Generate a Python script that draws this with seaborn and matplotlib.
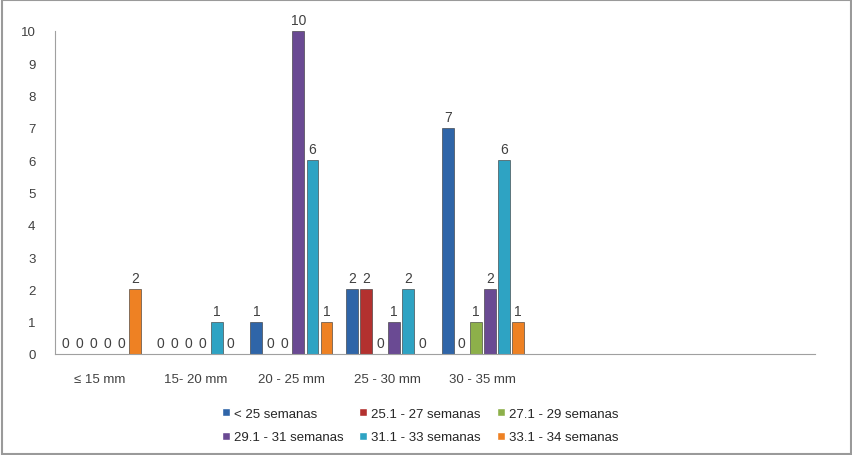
import numpy as np
import pandas as pd
import seaborn as sns
import matplotlib.pyplot as plt
from matplotlib.patches import Rectangle

categorias = ['≤ 15 mm', '15- 20 mm', '20 - 25 mm', '25 - 30 mm', '30 - 35 mm']
series = ['< 25 semanas', '25.1 - 27 semanas', '27.1 - 29 semanas',
          '29.1 - 31 semanas', '31.1 - 33 semanas', '33.1 - 34 semanas']
valores = {
    '< 25 semanas':      [0, 0, 1, 2, 7],
    '25.1 - 27 semanas': [0, 0, 0, 2, 0],
    '27.1 - 29 semanas': [0, 0, 0, 0, 1],
    '29.1 - 31 semanas': [0, 0, 10, 1, 2],
    '31.1 - 33 semanas': [0, 1, 6, 2, 6],
    '33.1 - 34 semanas': [2, 0, 1, 0, 1],
}
colores = ['#2F65A8', '#B3312F', '#8DB04A', '#6A4A93', '#2EA3C3', '#EE8123']

rows = []
for s in series:
    for c, v in zip(categorias, valores[s]):
        rows.append({'cat': c, 'serie': s, 'n': v})
df = pd.DataFrame(rows)

sns.set_style('white')
plt.rcParams['font.family'] = ['Liberation Sans', 'DejaVu Sans']

fig = plt.figure(figsize=(8.53, 4.56), dpi=100)
ax = fig.add_axes([55 / 853, 101 / 456, 760 / 853, 323 / 456])

# marco exterior
fig.patches.append(Rectangle((0.002, 0.003), 0.996, 0.994, transform=fig.transFigure,
                             fill=False, edgecolor='#9a9a9a', linewidth=1.5))

sns.barplot(data=df, x='cat', y='n', hue='serie', order=categorias,
            hue_order=series, palette=colores, width=0.88, gap=0.15,
            saturation=1, ax=ax, legend=True)

for cont in ax.containers:
    for p in cont:
        p.set_edgecolor('#303030')
        p.set_linewidth(0.4)
    ax.bar_label(cont, fmt='%d', padding=3, fontsize=10, color='#404040')

ax.set_xlim(-0.47, 7.47)
ax.set_ylim(0, 10)
ax.set_yticks(range(0, 11))
ax.set_xlabel('')
ax.set_ylabel('')
ax.tick_params(axis='both', length=0, labelsize=9.5, colors='#404040')
ax.tick_params(axis='x', pad=14)
ax.tick_params(axis='y', pad=14)
for side in ['top', 'right']:
    ax.spines[side].set_visible(False)
ax.spines['left'].set_color('#a0a0a0')
ax.spines['bottom'].set_color('#a0a0a0')

# leyenda en filas (matplotlib llena por columnas)
handles, labels = ax.get_legend_handles_labels()
orden = [0, 3, 1, 4, 2, 5]
ax.legend([handles[i] for i in orden], [labels[i] for i in orden],
          loc='upper center', bbox_to_anchor=(420 / 853, 0.13),
          bbox_transform=fig.transFigure, ncol=3, frameon=False, fontsize=9.5,
          handlelength=0.6, handleheight=0.6, handletextpad=0.3,
          columnspacing=1.2, labelspacing=0.9)

fig.savefig('out.png', dpi=100)
